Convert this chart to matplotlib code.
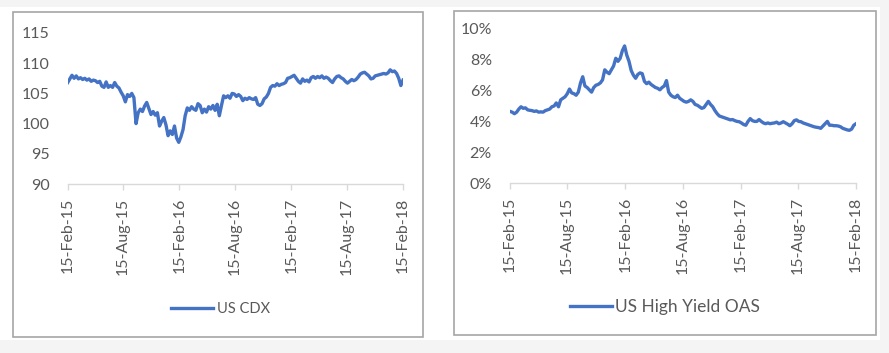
import matplotlib
matplotlib.use("Agg")
import matplotlib.pyplot as plt
import matplotlib.dates as mdates
from matplotlib.ticker import PercentFormatter, MultipleLocator
from matplotlib.patches import Rectangle
import pandas as pd

plt.rcParams['font.family'] = ['Lato', 'DejaVu Sans']

start_date = "2015-02-15"
end_date = "2018-02-15"
tick_labels = ["2015-02-15", "2015-08-15", "2016-02-15", "2016-08-15",
               "2017-02-15", "2017-08-15", "2018-02-15"]

us_cdx = [
    106.8, 107.4, 108.0, 107.5, 107.9, 107.4, 107.6, 107.3, 107.5, 107.2,
    107.4, 107.0, 107.2, 107.1, 106.8, 107.0, 106.2, 106.0, 106.9, 106.0,
    106.3, 106.0, 106.8, 106.2, 105.9, 105.2, 104.6, 103.6, 104.8, 104.5,
    105.0, 104.3, 100.0, 101.8, 102.4, 102.0, 102.9, 103.5, 102.5, 101.5,
    102.0, 101.4, 101.8, 99.6, 100.4, 101.0, 99.8, 98.0, 98.8, 98.2,
    99.6, 97.6, 96.9, 97.8, 99.0, 101.3, 102.6, 102.2, 102.8, 102.4,
    102.2, 103.3, 103.0, 101.8, 102.4, 101.9, 102.8, 102.4, 103.0, 102.2,
    103.2, 101.3, 103.0, 104.6, 104.3, 104.6, 104.2, 105.0, 104.9, 104.5,
    104.8, 104.5, 103.8, 104.2, 104.0, 104.3, 104.1, 104.0, 104.3, 103.2,
    103.0, 103.3, 104.1, 104.4, 105.0, 106.0, 106.3, 106.2, 106.6, 106.3,
    106.5, 106.6, 106.8, 107.5, 107.6, 107.8, 108.0, 107.5, 107.0, 106.7,
    107.4, 107.0, 107.2, 106.9, 107.6, 107.8, 107.5, 107.8, 107.6, 107.9,
    107.5, 107.7, 107.5, 107.1, 106.8, 107.4, 107.8, 107.9, 107.6, 107.4,
    107.0, 106.7, 107.0, 107.3, 107.1, 107.3, 107.7, 108.2, 108.4, 108.5,
    108.2, 107.9, 107.4, 107.5, 107.9, 108.0, 108.1, 108.2, 108.3, 108.2,
    108.4, 108.9, 108.6, 108.7, 108.3, 107.5, 106.3, 107.2,
]

us_hy_oas = [
    4.65, 4.60, 4.50, 4.60, 4.80, 4.95, 4.85, 4.88, 4.75, 4.72,
    4.70, 4.65, 4.68, 4.60, 4.62, 4.60, 4.70, 4.75, 4.80, 4.95,
    5.00, 5.20, 4.95, 5.40, 5.50, 5.60, 5.80, 6.10, 5.85, 5.80,
    5.70, 5.90, 6.50, 6.90, 6.30, 6.20, 6.05, 5.90, 6.20, 6.35,
    6.40, 6.50, 6.70, 7.35, 7.20, 7.10, 7.35, 7.60, 8.10, 7.90,
    8.10, 8.60, 8.90, 8.30, 7.90, 7.30, 7.00, 6.80, 7.05, 7.15,
    7.10, 6.60, 6.45, 6.55, 6.40, 6.30, 6.20, 6.15, 6.05, 6.20,
    6.30, 6.65, 5.90, 5.70, 5.60, 5.55, 5.70, 5.50, 5.40, 5.30,
    5.25, 5.30, 5.40, 5.30, 5.10, 5.05, 4.95, 4.85, 4.90, 5.10,
    5.30, 5.10, 4.95, 4.70, 4.50, 4.35, 4.30, 4.25, 4.20, 4.15,
    4.10, 4.12, 4.05, 4.00, 3.98, 3.90, 3.80, 3.75, 4.00, 4.18,
    4.05, 4.00, 4.00, 4.12, 4.00, 3.90, 3.85, 3.90, 3.85, 3.88,
    3.90, 3.95, 3.85, 3.90, 3.98, 3.90, 3.82, 3.72, 3.85, 4.05,
    4.10, 4.00, 3.98, 3.90, 3.85, 3.80, 3.75, 3.70, 3.65, 3.62,
    3.60, 3.55, 3.70, 3.85, 4.00, 3.75, 3.75, 3.72, 3.72, 3.70,
    3.65, 3.55, 3.50, 3.45, 3.42, 3.50, 3.75, 3.85,
]

dates_cdx = pd.date_range(start_date, end_date, periods=len(us_cdx))
dates_hy = pd.date_range(start_date, end_date, periods=len(us_hy_oas))
hy_frac = [v / 100 for v in us_hy_oas]

LINE = '#4472C4'
TXT = '#595959'
AX = '#d9d9d9'
W, H = 889, 353

fig = plt.figure(figsize=(W / 100, H / 100), dpi=100)
fig.patch.set_facecolor('#f4f4f4')
fig.patches.append(Rectangle((0, 1 - 340 / H), 880 / W, 333 / H, transform=fig.transFigure,
                             facecolor='white', edgecolor='none', zorder=0))
# panel borders
fig.patches.append(Rectangle((13 / W, 1 - 337 / H), 410 / W, 325 / H, transform=fig.transFigure,
                             facecolor='white', edgecolor='#a6a6a6', lw=1.2, zorder=1))
fig.patches.append(Rectangle((454 / W, 1 - 335 / H), 422 / W, 324 / H, transform=fig.transFigure,
                             facecolor='white', edgecolor='#a6a6a6', lw=1.2, zorder=1))

ax1 = fig.add_axes([67.7 / W, 1 - 184 / H, 335.3 / W, 151 / H])
ax2 = fig.add_axes([510 / W, 1 - 183 / H, 346 / W, 154 / H])

ticks = pd.to_datetime(tick_labels)
for ax in (ax1, ax2):
    ax.set_zorder(5)
    ax.set_facecolor('none')
    for s in ('top', 'right', 'left'):
        ax.spines[s].set_visible(False)
    ax.spines['bottom'].set_color(AX)
    ax.spines['bottom'].set_linewidth(1.0)
    ax.set_xlim(pd.Timestamp(start_date), pd.Timestamp(end_date))
    ax.set_xticks(ticks)
    ax.xaxis.set_major_formatter(mdates.DateFormatter('%d-%b-%y'))
    ax.tick_params(axis='x', colors=AX, labelcolor=TXT, labelsize=11.5, length=4,
                   width=1, rotation=90, pad=6)
    ax.tick_params(axis='y', length=0, labelcolor=TXT, labelsize=11.5, pad=13)

l1, = ax1.plot(dates_cdx, us_cdx, color=LINE, lw=2.4, solid_joinstyle='round')
ax1.set_ylim(90, 115)
ax1.yaxis.set_major_locator(MultipleLocator(5))

l2, = ax2.plot(dates_hy, hy_frac, color=LINE, lw=2.4, solid_joinstyle='round')
ax2.set_ylim(0, 0.10)
ax2.yaxis.set_major_locator(MultipleLocator(0.02))
ax2.yaxis.set_major_formatter(PercentFormatter(1.0, decimals=0))

leg1 = fig.legend([l1], ['US CDX'], loc='center left', bbox_to_anchor=(171 / W, 1 - 309 / H),
                  frameon=False, fontsize=10.5, labelcolor=TXT, handlelength=2.9,
                  handletextpad=0.25, borderpad=0, borderaxespad=0)
leg2 = fig.legend([l2], ['US High Yield OAS'], loc='center left', bbox_to_anchor=(570 / W, 1 - 307 / H),
                  frameon=False, fontsize=12.5, labelcolor=TXT, handlelength=2.4,
                  handletextpad=0.2, borderpad=0, borderaxespad=0)
leg1.set_zorder(6)
leg2.set_zorder(6)

fig.savefig('out.png', dpi=100, facecolor=fig.get_facecolor())
